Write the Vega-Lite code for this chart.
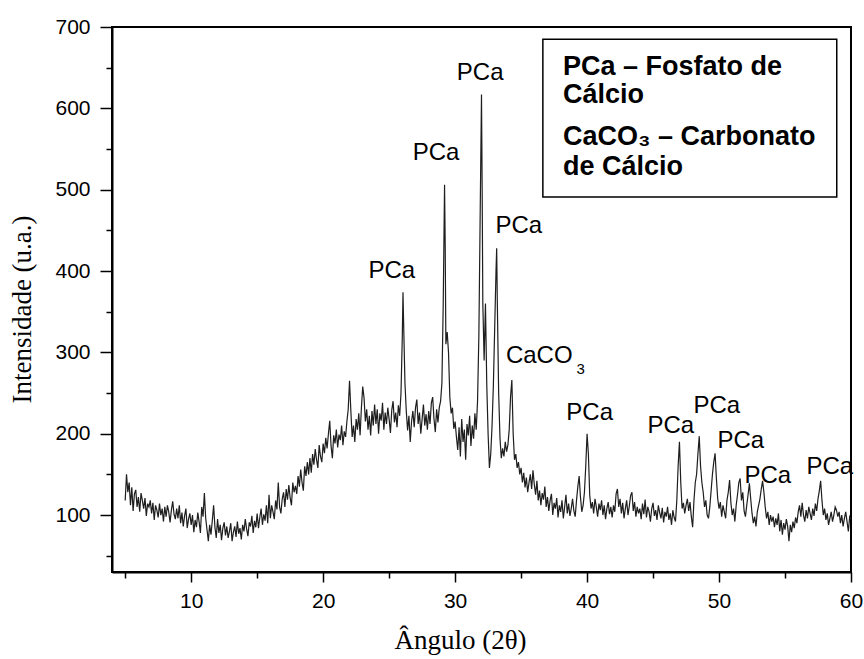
{
 "$schema": "https://vega.github.io/schema/vega-lite/v6.json",
 "width": 739, "height": 545,
 "autosize": {"type": "none"},
 "padding": {"left": 112, "top": 27, "right": 13, "bottom": 87},
 "background": "white",
 "config": {
  "view": {"stroke": "black", "strokeWidth": 2},
  "axis": {"domainColor": "black", "domainWidth": 2, "tickColor": "black", "tickWidth": 1.5, "labelColor": "black", "labelFont": "Liberation Sans", "labelFontSize": 21, "titleFont": "Liberation Serif", "titleFontSize": 27, "titleFontWeight": "normal", "titleColor": "black", "grid": false}
 },
 "datasets": {
  "xrd": [
   {"angle":5.0,"intensity":118},{"angle":5.1,"intensity":150},{"angle":5.2,"intensity":128},{"angle":5.3,"intensity":140},{"angle":5.4,"intensity":112},{"angle":5.5,"intensity":134},{"angle":5.6,"intensity":105},{"angle":5.7,"intensity":126},{"angle":5.8,"intensity":131},{"angle":5.9,"intensity":110},
   {"angle":6.0,"intensity":122},{"angle":6.1,"intensity":104},{"angle":6.2,"intensity":127},{"angle":6.3,"intensity":118},{"angle":6.4,"intensity":108},{"angle":6.5,"intensity":121},{"angle":6.6,"intensity":99},{"angle":6.7,"intensity":114},{"angle":6.8,"intensity":110},{"angle":6.9,"intensity":118},
   {"angle":7.0,"intensity":102},{"angle":7.1,"intensity":115},{"angle":7.2,"intensity":94},{"angle":7.3,"intensity":112},{"angle":7.4,"intensity":106},{"angle":7.5,"intensity":97},{"angle":7.6,"intensity":114},{"angle":7.7,"intensity":100},{"angle":7.8,"intensity":108},{"angle":7.9,"intensity":92},
   {"angle":8.0,"intensity":110},{"angle":8.1,"intensity":98},{"angle":8.2,"intensity":112},{"angle":8.3,"intensity":104},{"angle":8.4,"intensity":91},{"angle":8.5,"intensity":106},{"angle":8.6,"intensity":117},{"angle":8.7,"intensity":101},{"angle":8.8,"intensity":95},{"angle":8.9,"intensity":108},
   {"angle":9.0,"intensity":96},{"angle":9.1,"intensity":112},{"angle":9.2,"intensity":90},{"angle":9.3,"intensity":103},{"angle":9.4,"intensity":86},{"angle":9.5,"intensity":99},{"angle":9.6,"intensity":108},{"angle":9.7,"intensity":84},{"angle":9.8,"intensity":95},{"angle":9.9,"intensity":102},
   {"angle":10.0,"intensity":88},{"angle":10.1,"intensity":100},{"angle":10.2,"intensity":79},{"angle":10.3,"intensity":94},{"angle":10.4,"intensity":85},{"angle":10.5,"intensity":103},{"angle":10.6,"intensity":92},{"angle":10.7,"intensity":78},{"angle":10.8,"intensity":110},{"angle":10.9,"intensity":98},
   {"angle":11.0,"intensity":127},{"angle":11.1,"intensity":96},{"angle":11.2,"intensity":82},{"angle":11.3,"intensity":68},{"angle":11.4,"intensity":88},{"angle":11.5,"intensity":76},{"angle":11.6,"intensity":93},{"angle":11.7,"intensity":112},{"angle":11.8,"intensity":85},{"angle":11.9,"intensity":72},
   {"angle":12.0,"intensity":95},{"angle":12.1,"intensity":78},{"angle":12.2,"intensity":88},{"angle":12.3,"intensity":69},{"angle":12.4,"intensity":84},{"angle":12.5,"intensity":91},{"angle":12.6,"intensity":75},{"angle":12.7,"intensity":86},{"angle":12.8,"intensity":72},{"angle":12.9,"intensity":80},
   {"angle":13.0,"intensity":90},{"angle":13.1,"intensity":68},{"angle":13.2,"intensity":79},{"angle":13.3,"intensity":86},{"angle":13.4,"intensity":73},{"angle":13.5,"intensity":92},{"angle":13.6,"intensity":77},{"angle":13.7,"intensity":84},{"angle":13.8,"intensity":70},{"angle":13.9,"intensity":88},
   {"angle":14.0,"intensity":80},{"angle":14.1,"intensity":95},{"angle":14.2,"intensity":83},{"angle":14.3,"intensity":74},{"angle":14.4,"intensity":91},{"angle":14.5,"intensity":86},{"angle":14.6,"intensity":99},{"angle":14.7,"intensity":78},{"angle":14.8,"intensity":93},{"angle":14.9,"intensity":85},
   {"angle":15.0,"intensity":102},{"angle":15.1,"intensity":84},{"angle":15.2,"intensity":97},{"angle":15.3,"intensity":108},{"angle":15.4,"intensity":88},{"angle":15.5,"intensity":101},{"angle":15.6,"intensity":93},{"angle":15.7,"intensity":112},{"angle":15.8,"intensity":90},{"angle":15.9,"intensity":125},
   {"angle":16.0,"intensity":96},{"angle":16.1,"intensity":112},{"angle":16.2,"intensity":104},{"angle":16.3,"intensity":95},{"angle":16.4,"intensity":118},{"angle":16.5,"intensity":107},{"angle":16.6,"intensity":140},{"angle":16.7,"intensity":110},{"angle":16.8,"intensity":102},{"angle":16.9,"intensity":120},
   {"angle":17.0,"intensity":128},{"angle":17.1,"intensity":110},{"angle":17.2,"intensity":132},{"angle":17.3,"intensity":119},{"angle":17.4,"intensity":137},{"angle":17.5,"intensity":121},{"angle":17.6,"intensity":112},{"angle":17.7,"intensity":140},{"angle":17.8,"intensity":128},{"angle":17.9,"intensity":136},
   {"angle":18.0,"intensity":126},{"angle":18.1,"intensity":148},{"angle":18.2,"intensity":135},{"angle":18.3,"intensity":156},{"angle":18.4,"intensity":140},{"angle":18.5,"intensity":130},{"angle":18.6,"intensity":160},{"angle":18.7,"intensity":148},{"angle":18.8,"intensity":165},{"angle":18.9,"intensity":150},
   {"angle":19.0,"intensity":170},{"angle":19.1,"intensity":152},{"angle":19.2,"intensity":175},{"angle":19.3,"intensity":162},{"angle":19.4,"intensity":181},{"angle":19.5,"intensity":168},{"angle":19.6,"intensity":158},{"angle":19.7,"intensity":186},{"angle":19.8,"intensity":172},{"angle":19.9,"intensity":165},
   {"angle":20.0,"intensity":188},{"angle":20.1,"intensity":176},{"angle":20.2,"intensity":195},{"angle":20.3,"intensity":182},{"angle":20.4,"intensity":200},{"angle":20.5,"intensity":216},{"angle":20.6,"intensity":185},{"angle":20.7,"intensity":170},{"angle":20.8,"intensity":198},{"angle":20.9,"intensity":188},
   {"angle":21.0,"intensity":205},{"angle":21.1,"intensity":183},{"angle":21.2,"intensity":199},{"angle":21.3,"intensity":192},{"angle":21.4,"intensity":210},{"angle":21.5,"intensity":186},{"angle":21.6,"intensity":203},{"angle":21.7,"intensity":196},{"angle":21.8,"intensity":215},{"angle":21.9,"intensity":230},
   {"angle":22.0,"intensity":265},{"angle":22.1,"intensity":228},{"angle":22.2,"intensity":196},{"angle":22.3,"intensity":210},{"angle":22.4,"intensity":190},{"angle":22.5,"intensity":218},{"angle":22.6,"intensity":205},{"angle":22.7,"intensity":225},{"angle":22.8,"intensity":198},{"angle":22.9,"intensity":232},
   {"angle":23.0,"intensity":258},{"angle":23.1,"intensity":244},{"angle":23.2,"intensity":215},{"angle":23.3,"intensity":230},{"angle":23.4,"intensity":205},{"angle":23.5,"intensity":222},{"angle":23.6,"intensity":198},{"angle":23.7,"intensity":228},{"angle":23.8,"intensity":210},{"angle":23.9,"intensity":236},
   {"angle":24.0,"intensity":212},{"angle":24.1,"intensity":230},{"angle":24.2,"intensity":200},{"angle":24.3,"intensity":225},{"angle":24.4,"intensity":216},{"angle":24.5,"intensity":238},{"angle":24.6,"intensity":205},{"angle":24.7,"intensity":226},{"angle":24.8,"intensity":212},{"angle":24.9,"intensity":232},
   {"angle":25.0,"intensity":218},{"angle":25.1,"intensity":201},{"angle":25.2,"intensity":229},{"angle":25.3,"intensity":240},{"angle":25.4,"intensity":214},{"angle":25.5,"intensity":226},{"angle":25.6,"intensity":208},{"angle":25.7,"intensity":235},{"angle":25.8,"intensity":222},{"angle":25.9,"intensity":250},
   {"angle":26.0,"intensity":320},{"angle":26.05,"intensity":374},{"angle":26.1,"intensity":335},{"angle":26.2,"intensity":262},{"angle":26.3,"intensity":228},{"angle":26.4,"intensity":204},{"angle":26.5,"intensity":222},{"angle":26.6,"intensity":190},{"angle":26.7,"intensity":215},{"angle":26.8,"intensity":228},{"angle":26.9,"intensity":208},
   {"angle":27.0,"intensity":232},{"angle":27.1,"intensity":242},{"angle":27.2,"intensity":212},{"angle":27.3,"intensity":226},{"angle":27.4,"intensity":200},{"angle":27.5,"intensity":218},{"angle":27.6,"intensity":236},{"angle":27.7,"intensity":210},{"angle":27.8,"intensity":224},{"angle":27.9,"intensity":205},
   {"angle":28.0,"intensity":228},{"angle":28.1,"intensity":212},{"angle":28.2,"intensity":238},{"angle":28.3,"intensity":245},{"angle":28.4,"intensity":218},{"angle":28.5,"intensity":202},{"angle":28.6,"intensity":230},{"angle":28.7,"intensity":214},{"angle":28.8,"intensity":232},{"angle":28.9,"intensity":240},
   {"angle":29.0,"intensity":262},{"angle":29.1,"intensity":360},{"angle":29.2,"intensity":506},{"angle":29.25,"intensity":430},{"angle":29.3,"intensity":310},{"angle":29.4,"intensity":325},{"angle":29.5,"intensity":300},{"angle":29.6,"intensity":245},{"angle":29.7,"intensity":225},{"angle":29.8,"intensity":232},{"angle":29.9,"intensity":206},
   {"angle":30.0,"intensity":215},{"angle":30.1,"intensity":196},{"angle":30.2,"intensity":180},{"angle":30.3,"intensity":208},{"angle":30.4,"intensity":172},{"angle":30.5,"intensity":218},{"angle":30.6,"intensity":190},{"angle":30.7,"intensity":205},{"angle":30.8,"intensity":168},{"angle":30.9,"intensity":212},
   {"angle":31.0,"intensity":198},{"angle":31.1,"intensity":222},{"angle":31.2,"intensity":185},{"angle":31.3,"intensity":210},{"angle":31.4,"intensity":194},{"angle":31.5,"intensity":225},{"angle":31.6,"intensity":205},{"angle":31.7,"intensity":240},{"angle":31.8,"intensity":320},{"angle":31.9,"intensity":470},
   {"angle":32.0,"intensity":617},{"angle":32.05,"intensity":500},{"angle":32.1,"intensity":360},{"angle":32.2,"intensity":290},{"angle":32.3,"intensity":360},{"angle":32.4,"intensity":260},{"angle":32.5,"intensity":200},{"angle":32.6,"intensity":158},{"angle":32.7,"intensity":175},{"angle":32.8,"intensity":210},{"angle":32.9,"intensity":260},
   {"angle":33.0,"intensity":330},{"angle":33.1,"intensity":400},{"angle":33.15,"intensity":428},{"angle":33.2,"intensity":360},{"angle":33.3,"intensity":250},{"angle":33.4,"intensity":195},{"angle":33.5,"intensity":170},{"angle":33.6,"intensity":182},{"angle":33.7,"intensity":172},{"angle":33.8,"intensity":190},{"angle":33.9,"intensity":178},
   {"angle":34.0,"intensity":186},{"angle":34.1,"intensity":205},{"angle":34.2,"intensity":245},{"angle":34.3,"intensity":266},{"angle":34.4,"intensity":200},{"angle":34.5,"intensity":168},{"angle":34.6,"intensity":175},{"angle":34.7,"intensity":158},{"angle":34.8,"intensity":165},{"angle":34.9,"intensity":150},
   {"angle":35.0,"intensity":158},{"angle":35.1,"intensity":140},{"angle":35.2,"intensity":152},{"angle":35.3,"intensity":134},{"angle":35.4,"intensity":146},{"angle":35.5,"intensity":128},{"angle":35.6,"intensity":140},{"angle":35.7,"intensity":150},{"angle":35.8,"intensity":132},{"angle":35.9,"intensity":155},
   {"angle":36.0,"intensity":138},{"angle":36.1,"intensity":125},{"angle":36.2,"intensity":142},{"angle":36.3,"intensity":118},{"angle":36.4,"intensity":130},{"angle":36.5,"intensity":112},{"angle":36.6,"intensity":127},{"angle":36.7,"intensity":119},{"angle":36.8,"intensity":135},{"angle":36.9,"intensity":110},
   {"angle":37.0,"intensity":122},{"angle":37.1,"intensity":105},{"angle":37.2,"intensity":118},{"angle":37.3,"intensity":126},{"angle":37.4,"intensity":100},{"angle":37.5,"intensity":115},{"angle":37.6,"intensity":108},{"angle":37.7,"intensity":121},{"angle":37.8,"intensity":97},{"angle":37.9,"intensity":112},
   {"angle":38.0,"intensity":104},{"angle":38.1,"intensity":118},{"angle":38.2,"intensity":96},{"angle":38.3,"intensity":110},{"angle":38.4,"intensity":125},{"angle":38.5,"intensity":102},{"angle":38.6,"intensity":114},{"angle":38.7,"intensity":99},{"angle":38.8,"intensity":108},{"angle":38.9,"intensity":120},
   {"angle":39.0,"intensity":105},{"angle":39.1,"intensity":98},{"angle":39.2,"intensity":118},{"angle":39.3,"intensity":135},{"angle":39.4,"intensity":148},{"angle":39.5,"intensity":122},{"angle":39.6,"intensity":104},{"angle":39.7,"intensity":112},{"angle":39.8,"intensity":128},{"angle":39.9,"intensity":160},
   {"angle":40.0,"intensity":200},{"angle":40.1,"intensity":175},{"angle":40.2,"intensity":125},{"angle":40.3,"intensity":108},{"angle":40.4,"intensity":116},{"angle":40.5,"intensity":102},{"angle":40.6,"intensity":120},{"angle":40.7,"intensity":110},{"angle":40.8,"intensity":98},{"angle":40.9,"intensity":114},
   {"angle":41.0,"intensity":106},{"angle":41.1,"intensity":118},{"angle":41.2,"intensity":100},{"angle":41.3,"intensity":112},{"angle":41.4,"intensity":95},{"angle":41.5,"intensity":108},{"angle":41.6,"intensity":116},{"angle":41.7,"intensity":101},{"angle":41.8,"intensity":110},{"angle":41.9,"intensity":97},
   {"angle":42.0,"intensity":112},{"angle":42.1,"intensity":104},{"angle":42.2,"intensity":126},{"angle":42.3,"intensity":132},{"angle":42.4,"intensity":110},{"angle":42.5,"intensity":120},{"angle":42.6,"intensity":102},{"angle":42.7,"intensity":115},{"angle":42.8,"intensity":96},{"angle":42.9,"intensity":108},
   {"angle":43.0,"intensity":118},{"angle":43.1,"intensity":100},{"angle":43.2,"intensity":111},{"angle":43.3,"intensity":124},{"angle":43.4,"intensity":128},{"angle":43.5,"intensity":105},{"angle":43.6,"intensity":116},{"angle":43.7,"intensity":98},{"angle":43.8,"intensity":110},{"angle":43.9,"intensity":102},
   {"angle":44.0,"intensity":108},{"angle":44.1,"intensity":95},{"angle":44.2,"intensity":114},{"angle":44.3,"intensity":101},{"angle":44.4,"intensity":119},{"angle":44.5,"intensity":97},{"angle":44.6,"intensity":110},{"angle":44.7,"intensity":104},{"angle":44.8,"intensity":92},{"angle":44.9,"intensity":108},
   {"angle":45.0,"intensity":115},{"angle":45.1,"intensity":99},{"angle":45.2,"intensity":106},{"angle":45.3,"intensity":94},{"angle":45.4,"intensity":112},{"angle":45.5,"intensity":103},{"angle":45.6,"intensity":96},{"angle":45.7,"intensity":109},{"angle":45.8,"intensity":91},{"angle":45.9,"intensity":104},
   {"angle":46.0,"intensity":98},{"angle":46.1,"intensity":110},{"angle":46.2,"intensity":94},{"angle":46.3,"intensity":102},{"angle":46.4,"intensity":88},{"angle":46.5,"intensity":106},{"angle":46.6,"intensity":97},{"angle":46.7,"intensity":92},{"angle":46.8,"intensity":118},{"angle":46.9,"intensity":160},
   {"angle":47.0,"intensity":190},{"angle":47.1,"intensity":140},{"angle":47.2,"intensity":108},{"angle":47.3,"intensity":115},{"angle":47.4,"intensity":102},{"angle":47.5,"intensity":112},{"angle":47.6,"intensity":120},{"angle":47.7,"intensity":105},{"angle":47.8,"intensity":116},{"angle":47.9,"intensity":98},
   {"angle":48.0,"intensity":85},{"angle":48.1,"intensity":118},{"angle":48.2,"intensity":140},{"angle":48.3,"intensity":150},{"angle":48.4,"intensity":175},{"angle":48.5,"intensity":197},{"angle":48.6,"intensity":160},{"angle":48.7,"intensity":140},{"angle":48.8,"intensity":128},{"angle":48.9,"intensity":110},
   {"angle":49.0,"intensity":118},{"angle":49.1,"intensity":100},{"angle":49.2,"intensity":96},{"angle":49.3,"intensity":110},{"angle":49.4,"intensity":130},{"angle":49.5,"intensity":150},{"angle":49.6,"intensity":165},{"angle":49.7,"intensity":176},{"angle":49.8,"intensity":145},{"angle":49.9,"intensity":120},
   {"angle":50.0,"intensity":108},{"angle":50.1,"intensity":116},{"angle":50.2,"intensity":98},{"angle":50.3,"intensity":112},{"angle":50.4,"intensity":104},{"angle":50.5,"intensity":96},{"angle":50.6,"intensity":118},{"angle":50.7,"intensity":128},{"angle":50.8,"intensity":143},{"angle":50.9,"intensity":115},
   {"angle":51.0,"intensity":100},{"angle":51.1,"intensity":108},{"angle":51.2,"intensity":92},{"angle":51.3,"intensity":112},{"angle":51.4,"intensity":125},{"angle":51.5,"intensity":140},{"angle":51.6,"intensity":145},{"angle":51.7,"intensity":118},{"angle":51.8,"intensity":128},{"angle":51.9,"intensity":105},
   {"angle":52.0,"intensity":98},{"angle":52.1,"intensity":112},{"angle":52.2,"intensity":125},{"angle":52.3,"intensity":139},{"angle":52.4,"intensity":120},{"angle":52.5,"intensity":102},{"angle":52.6,"intensity":90},{"angle":52.7,"intensity":98},{"angle":52.8,"intensity":86},{"angle":52.9,"intensity":104},
   {"angle":53.0,"intensity":112},{"angle":53.1,"intensity":120},{"angle":53.2,"intensity":132},{"angle":53.3,"intensity":142},{"angle":53.4,"intensity":128},{"angle":53.5,"intensity":110},{"angle":53.6,"intensity":96},{"angle":53.7,"intensity":104},{"angle":53.8,"intensity":88},{"angle":53.9,"intensity":100},
   {"angle":54.0,"intensity":92},{"angle":54.1,"intensity":98},{"angle":54.2,"intensity":85},{"angle":54.3,"intensity":96},{"angle":54.4,"intensity":88},{"angle":54.5,"intensity":102},{"angle":54.6,"intensity":80},{"angle":54.7,"intensity":94},{"angle":54.8,"intensity":76},{"angle":54.9,"intensity":90},
   {"angle":55.0,"intensity":82},{"angle":55.1,"intensity":95},{"angle":55.2,"intensity":86},{"angle":55.3,"intensity":68},{"angle":55.4,"intensity":88},{"angle":55.5,"intensity":79},{"angle":55.6,"intensity":92},{"angle":55.7,"intensity":84},{"angle":55.8,"intensity":97},{"angle":55.9,"intensity":90},
   {"angle":56.0,"intensity":104},{"angle":56.1,"intensity":112},{"angle":56.2,"intensity":98},{"angle":56.3,"intensity":115},{"angle":56.4,"intensity":100},{"angle":56.5,"intensity":92},{"angle":56.6,"intensity":106},{"angle":56.7,"intensity":96},{"angle":56.8,"intensity":110},{"angle":56.9,"intensity":102},
   {"angle":57.0,"intensity":94},{"angle":57.1,"intensity":108},{"angle":57.2,"intensity":99},{"angle":57.3,"intensity":114},{"angle":57.4,"intensity":105},{"angle":57.5,"intensity":120},{"angle":57.6,"intensity":130},{"angle":57.7,"intensity":142},{"angle":57.8,"intensity":118},{"angle":57.9,"intensity":100},
   {"angle":58.0,"intensity":108},{"angle":58.1,"intensity":94},{"angle":58.2,"intensity":102},{"angle":58.3,"intensity":88},{"angle":58.4,"intensity":96},{"angle":58.5,"intensity":104},{"angle":58.6,"intensity":92},{"angle":58.7,"intensity":100},{"angle":58.8,"intensity":110},{"angle":58.9,"intensity":106},
   {"angle":59.0,"intensity":98},{"angle":59.1,"intensity":104},{"angle":59.2,"intensity":90},{"angle":59.3,"intensity":100},{"angle":59.4,"intensity":86},{"angle":59.5,"intensity":96},{"angle":59.6,"intensity":104},{"angle":59.7,"intensity":92},{"angle":59.8,"intensity":80},{"angle":59.9,"intensity":98},{"angle":60.0,"intensity":95}
  ],
  "peaks": [
   {"angle":25.2,"intensity":392,"label":"PCa"},
   {"angle":28.55,"intensity":536,"label":"PCa"},
   {"angle":31.9,"intensity":635,"label":"PCa"},
   {"angle":34.83,"intensity":447,"label":"PCa"},
   {"angle":40.2,"intensity":217,"label":"PCa"},
   {"angle":46.35,"intensity":201,"label":"PCa"},
   {"angle":49.83,"intensity":226,"label":"PCa"},
   {"angle":51.65,"intensity":183,"label":"PCa"},
   {"angle":53.7,"intensity":139,"label":"PCa"},
   {"angle":58.39,"intensity":150,"label":"PCa"}
  ],
  "one": [{"k": 1}]
 },
 "layer": [
  {
   "data": {"name": "xrd"},
   "mark": {"type": "line", "color": "#1e1e1e", "strokeWidth": 1.2},
   "encoding": {
    "x": {"field": "angle", "type": "quantitative",
     "scale": {"domain": [4, 60], "nice": false, "zero": false},
     "axis": {"title": "Ângulo (2θ)", "values": [5,10,15,20,25,30,35,40,45,50,55,60],
      "labelExpr": "datum.value % 10 === 0 ? datum.label : ''",
      "tickSize": {"condition": {"test": "datum.value % 10 === 0", "value": 10}, "value": 6},
      "labelPadding": 8, "labelFlush": false, "labelOverlap": false,
      "titleX": 348, "titleY": 76, "titleAlign": "center", "titleBaseline": "alphabetic", "titleAnchor": null}},
    "y": {"field": "intensity", "type": "quantitative",
     "scale": {"domain": [30, 700], "nice": false, "zero": false},
     "axis": {"title": "Intensidade (u.a.)", "values": [50,100,150,200,250,300,350,400,450,500,550,600,650,700],
      "labelExpr": "datum.value % 100 === 0 ? datum.label : ''",
      "tickSize": {"condition": {"test": "datum.value % 100 === 0", "value": 12}, "value": 6},
      "labelPadding": 10, "labelOverlap": false, "labelFlush": false,
      "titleX": -90, "titleY": 282, "titleAngle": -90, "titleAlign": "center", "titleBaseline": "middle"}}
   }
  },
  {
   "data": {"name": "peaks"},
   "mark": {"type": "text", "font": "Liberation Sans", "fontSize": 24, "color": "black", "align": "center", "baseline": "alphabetic"},
   "encoding": {
    "x": {"field": "angle", "type": "quantitative"},
    "y": {"field": "intensity", "type": "quantitative"},
    "text": {"field": "label"}
   }
  },
  {
   "data": {"name": "one"},
   "mark": {"type": "text", "font": "Liberation Sans", "fontSize": 24, "color": "black", "align": "left", "baseline": "alphabetic", "text": "CaCO"},
   "encoding": {"x": {"datum": 33.85, "type": "quantitative"}, "y": {"datum": 287, "type": "quantitative"}}
  },
  {
   "data": {"name": "one"},
   "mark": {"type": "text", "font": "Liberation Sans", "fontSize": 15, "color": "black", "align": "left", "baseline": "alphabetic", "text": "3"},
   "encoding": {"x": {"datum": 39.2, "type": "quantitative"}, "y": {"datum": 274, "type": "quantitative"}}
  },
  {
   "data": {"name": "one"},
   "mark": {"type": "rect", "fill": "white", "stroke": "black", "strokeWidth": 1.5},
   "encoding": {"x": {"datum": 36.65, "type": "quantitative"}, "x2": {"datum": 58.92}, "y": {"datum": 685, "type": "quantitative"}, "y2": {"datum": 491}}
  },
  {
   "data": {"name": "one"},
   "mark": {"type": "text", "font": "Liberation Sans", "fontSize": 27, "fontWeight": "bold", "color": "black", "align": "left", "baseline": "alphabetic", "lineHeight": 28, "text": ["PCa – Fosfato de", "Cálcio"]},
   "encoding": {"x": {"datum": 38.17, "type": "quantitative"}, "y": {"datum": 641, "type": "quantitative"}}
  },
  {
   "data": {"name": "one"},
   "mark": {"type": "text", "font": "Liberation Sans", "fontSize": 27, "fontWeight": "bold", "color": "black", "align": "left", "baseline": "alphabetic", "lineHeight": 30, "text": ["CaCO₃ – Carbonato", "de Cálcio"]},
   "encoding": {"x": {"datum": 38.17, "type": "quantitative"}, "y": {"datum": 555, "type": "quantitative"}}
  }
 ]
}
